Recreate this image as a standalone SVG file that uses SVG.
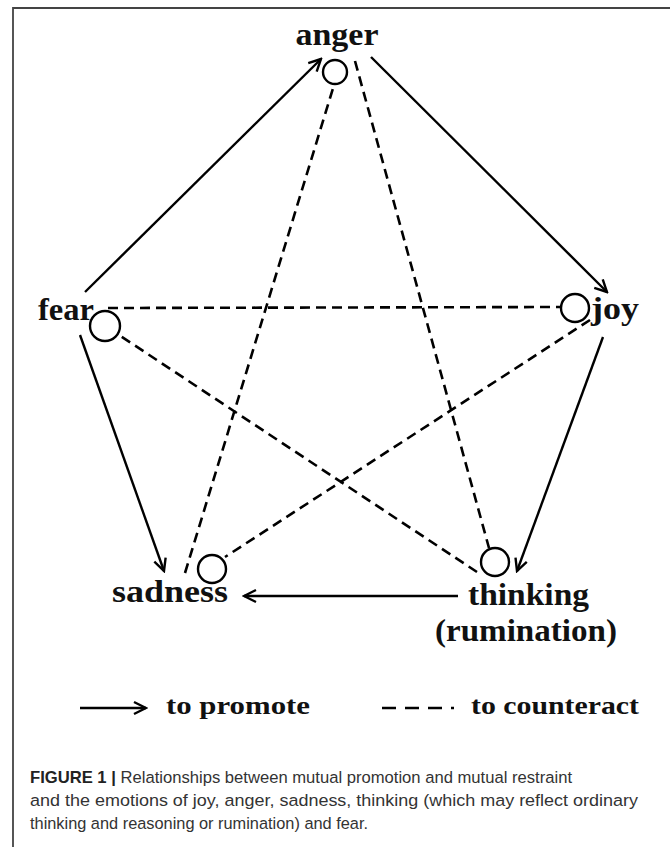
<svg xmlns="http://www.w3.org/2000/svg" width="670" height="847" viewBox="0 0 670 847">
<style>
.lbl{font-family:"Liberation Sans",Arial,sans-serif;font-family:"Liberation Serif","Times New Roman",serif;font-weight:bold;font-size:32px;fill:#111}
.leg{font-family:"Liberation Serif","Times New Roman",serif;font-weight:bold;font-size:26px;fill:#111}
.cap{font-family:"Liberation Sans",Arial,sans-serif;font-size:16.3px;fill:#333}
.solid{stroke:#000;stroke-width:2.4;fill:none}
.dash{stroke:#000;stroke-width:2.6;fill:none;stroke-dasharray:10 6}
.ring{stroke:#000;stroke-width:2.4;fill:#fff}
</style>
<defs>
<marker id="arr" viewBox="-14 -8 16 16" refX="0" refY="0" markerWidth="16" markerHeight="16" markerUnits="userSpaceOnUse" orient="auto">
<path d="M-12,-6 L0,0 L-12,6" fill="none" stroke="#000" stroke-width="2.4"/>
</marker>
</defs>
<rect width="670" height="847" fill="#fff"/>
<path d="M13,847 V8 H670" fill="none" stroke="#444" stroke-width="1.8"/>
<g id="connectors">
<line class="solid" x1="85" y1="292" x2="321" y2="59" marker-end="url(#arr)"/>
<line class="solid" x1="371" y1="57" x2="607" y2="292" marker-end="url(#arr)"/>
<line class="solid" x1="603" y1="337" x2="517" y2="571" marker-end="url(#arr)"/>
<line class="solid" x1="458" y1="596" x2="244" y2="596" marker-end="url(#arr)"/>
<line class="solid" x1="80" y1="335" x2="164" y2="571" marker-end="url(#arr)"/>
<line class="dash" x1="108" y1="308" x2="561" y2="307"/>
<line class="dash" x1="590" y1="320" x2="225" y2="557"/>
<line class="dash" x1="185" y1="573" x2="334" y2="85"/>
<line class="dash" x1="355" y1="61" x2="489" y2="548"/>
<line class="dash" x1="477" y1="572" x2="119" y2="335"/>
</g>
<g id="anger">
<text class="lbl" x="337" y="45" text-anchor="middle" textLength="83" lengthAdjust="spacingAndGlyphs">anger</text>
<circle class="ring" cx="335" cy="72" r="12"/>
</g>
<g id="fear">
<text class="lbl" x="38" y="320" textLength="56" lengthAdjust="spacingAndGlyphs">fear</text>
<circle class="ring" cx="105" cy="326" r="15"/>
</g>
<g id="joy">
<text class="lbl" x="591" y="319" textLength="48" lengthAdjust="spacingAndGlyphs">joy</text>
<circle class="ring" cx="575" cy="308" r="14"/>
</g>
<g id="sadness">
<text class="lbl" x="112" y="602" textLength="116" lengthAdjust="spacingAndGlyphs">sadness</text>
<circle class="ring" cx="212" cy="569" r="14"/>
</g>
<g id="thinking">
<text class="lbl" x="468" y="605" textLength="121" lengthAdjust="spacingAndGlyphs">thinking</text>
<text class="lbl" x="435" y="641" textLength="182" lengthAdjust="spacingAndGlyphs">(rumination)</text>
<circle class="ring" cx="495" cy="562" r="14"/>
</g>
<g id="legend">
<line class="solid" x1="80" y1="708" x2="146" y2="708" marker-end="url(#arr)"/>
<text class="leg" x="166" y="714" textLength="144" lengthAdjust="spacingAndGlyphs">to promote</text>
<line x1="382" y1="708" x2="454" y2="708" stroke="#000" stroke-width="2.6" stroke-dasharray="14 9"/>
<text class="leg" x="471" y="714" textLength="168" lengthAdjust="spacingAndGlyphs">to counteract</text>
</g>
<g id="caption">
<text class="cap" x="30" y="783" textLength="542" lengthAdjust="spacingAndGlyphs"><tspan font-weight="bold" fill="#222">FIGURE 1 |</tspan> Relationships between mutual promotion and mutual restraint</text>
<text class="cap" x="30" y="806" textLength="608" lengthAdjust="spacingAndGlyphs">and the emotions of joy, anger, sadness, thinking (which may reflect ordinary</text>
<text class="cap" x="30" y="829" textLength="338" lengthAdjust="spacingAndGlyphs">thinking and reasoning or rumination) and fear.</text>
</g>
</svg>
